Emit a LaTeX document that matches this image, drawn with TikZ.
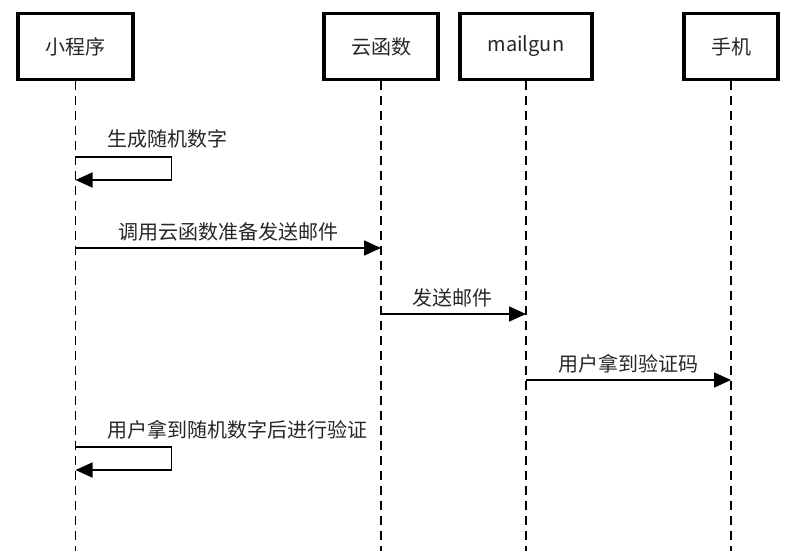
\documentclass[tikz,border=0pt]{standalone}
\usepackage{fontspec}
\newfontfamily\cjk{Noto Sans CJK SC}
\usetikzlibrary{arrows.meta}
\begin{document}
\begin{tikzpicture}[x=1pt, y=-1pt,
    actor/.style={draw, line width=3.5pt, minimum height=66pt, inner sep=0pt, font=\cjk\fontsize{20}{23}\selectfont, text=black!85},
    lifeline/.style={line width=1.6pt, dash pattern=on 9pt off 6pt},
    msg/.style={line width=1.6pt, -{Triangle[length=17pt, width=15pt]}},
    lbl/.style={font=\cjk\fontsize{20}{23}\selectfont, text=black!85, inner sep=0pt}]
    \useasboundingbox (0, 0) rectangle (786, 550);
    % actors
    \node[actor, minimum width=115pt] (xcx) at (75.5, 46.5) {小程序};
    \node[actor, minimum width=114pt] (yhs) at (381, 46.5) {云函数};
    \node[actor, minimum width=132pt] (mg) at (526, 46.5) {mailgun};
    \node[actor, minimum width=94pt] (sj) at (731, 46.5) {手机};
    % lifelines
    \coordinate (xcx end) at (75.5, 552);
    \coordinate (yhs end) at (381, 552);
    \coordinate (mg end) at (526, 552);
    \coordinate (sj end) at (731, 552);
    \draw[lifeline] (xcx.south) -- (xcx end);
    \draw[lifeline] (yhs.south) -- (yhs end);
    \draw[lifeline] (mg.south) -- (mg end);
    \draw[lifeline] (sj.south) -- (sj end);
    % messages
    \coordinate (s1a) at (75.5, 157);
    \coordinate (s1b) at (75.5, 180);
    \draw[msg] (s1a) -- ++(96, 0) -- ++(0, 23) -- (s1b);
    \node[lbl, anchor=west] (l1) at (107, 139) {生成随机数字};
    \coordinate (m2a) at (75.5, 248);
    \coordinate (m2b) at (381, 248);
    \draw[msg] (m2a) -- node[lbl, above=6pt] (l2) {调用云函数准备发送邮件} (m2b);
    \coordinate (m3a) at (381, 314);
    \coordinate (m3b) at (526, 314);
    \draw[msg] (m3a) -- node[lbl, above=6pt, xshift=-1pt] (l3) {发送邮件} (m3b);
    \coordinate (m4a) at (526, 380);
    \coordinate (m4b) at (731, 380);
    \draw[msg] (m4a) -- node[lbl, above=6pt] (l4) {用户拿到验证码} (m4b);
    \coordinate (s5a) at (75.5, 447);
    \coordinate (s5b) at (75.5, 470);
    \draw[msg] (s5a) -- ++(96, 0) -- ++(0, 23) -- (s5b);
    \node[lbl, anchor=west] (l5) at (107, 430) {用户拿到随机数字后进行验证};
\end{tikzpicture}
\end{document}
